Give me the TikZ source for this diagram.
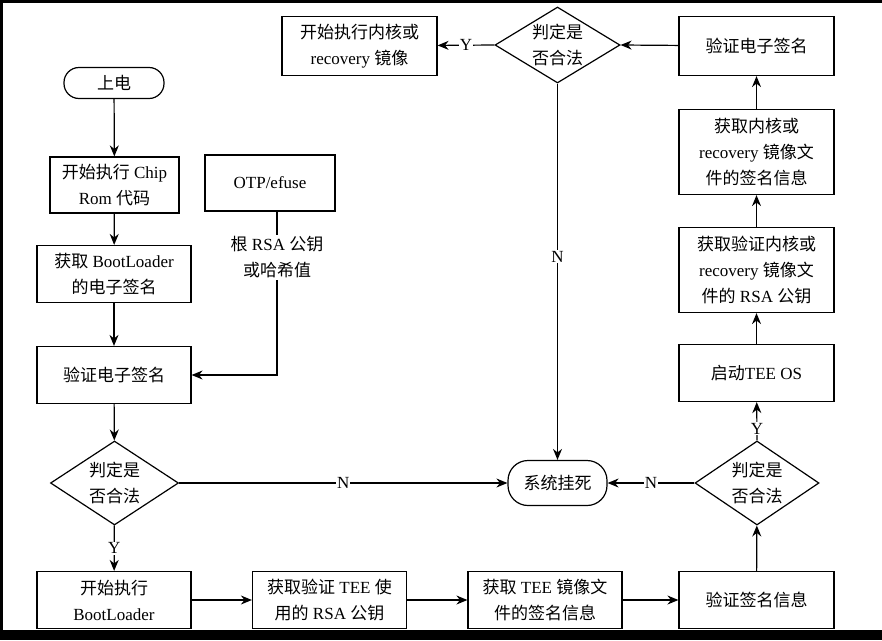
\documentclass[tikz,border=0pt]{standalone}
\usepackage{fontspec}
\setmainfont{Liberation Serif}
\newfontfamily\cjk{Noto Sans CJK SC}
\usepackage{tikz}
\usetikzlibrary{arrows.meta,shapes.geometric}
\newcommand{\zh}[1]{{\cjk #1}}
\tikzstyle{box} = [draw, line width=1.2pt, rectangle, align=center, minimum width=154, minimum height=57, inner sep=2pt]
\tikzstyle{term} = [draw, line width=1.2pt, rectangle, rounded corners=15pt, align=center, inner sep=2pt]
\tikzstyle{decide} = [draw, line width=1.2pt, diamond, aspect=1.5, align=center, inner sep=0pt, minimum width=128, minimum height=84]
\tikzstyle{arrow} = [line width=1.2pt, -{Stealth[length=11pt,width=9pt]}]
\tikzstyle{yn} = [fill=white, inner sep=1pt]

\begin{document}
\begin{tikzpicture}[x=1pt, y=-1pt, font=\fontsize{17}{26}\selectfont]
% frame
\fill[black] (0,0) rectangle (882,640);
\fill[white] (3,3) rectangle (882,630);
\useasboundingbox (0,0) rectangle (882,640);

% left column
\node[term, minimum width=100, minimum height=31] (power) at (114,83) {\zh{上电}};
\node[box, minimum width=129, minimum height=56] (chiprom) at (114.5,185) {\zh{开始执行} Chip\\Rom \zh{代码}};
\node[box] (getsig) at (114,274) {\zh{获取} BootLoader\\\zh{的电子签名}};
\node[box, minimum width=130, minimum height=56] (otp) at (270,183) {OTP/efuse};
\node[box] (verify) at (114,375) {\zh{验证电子签名}};
\node[decide] (chk1) at (114.5,483) {\zh{判定是}\\\zh{否合法}};

% bottom row
\node[box] (boot) at (114,600) {\zh{开始执行}\\BootLoader};
\node[box] (teekey) at (329.5,600) {\zh{获取验证} TEE \zh{使}\\\zh{用的} RSA \zh{公钥}};
\node[box] (teesig) at (545,600) {\zh{获取} TEE \zh{镜像文}\\\zh{件的签名信息}};
\node[box, minimum width=155] (vsig) at (756.5,600) {\zh{验证签名信息}};

% right column
\node[decide, minimum width=124] (chk2) at (757,483) {\zh{判定是}\\\zh{否合法}};
\node[box, minimum width=155] (teeos) at (756.5,373) {\zh{启动}TEE OS};
\node[term, minimum width=99, minimum height=45, rounded corners=20pt] (hang) at (557.5,483) {\zh{系统挂死}};
\node[box, minimum width=155, minimum height=85] (kkey) at (756.5,270) {\zh{获取验证内核或}\\recovery \zh{镜像文}\\\zh{件的} RSA \zh{公钥}};
\node[box, minimum width=155, minimum height=85] (ksig) at (756.5,152) {\zh{获取内核或}\\recovery \zh{镜像文}\\\zh{件的签名信息}};
\node[box, minimum width=155, minimum height=59] (kverify) at (756.5,46) {\zh{验证电子签名}};

% top row
\node[decide, minimum width=125, minimum height=76] (chk3) at (557.5,45) {\zh{判定是}\\\zh{否合法}};
\node[box, minimum width=155, minimum height=59] (kernel) at (359.5,46) {\zh{开始执行内核或}\\recovery \zh{镜像}};

% connectors
\draw[arrow] (power) -- (chiprom);
\draw[arrow] (chiprom) -- (getsig);
\draw[arrow] (getsig) -- (verify);
\draw[arrow] ([xshift=7pt]otp.south) -- node[pos=0.28, fill=white, align=center, inner sep=2pt] {\zh{根} RSA \zh{公钥}\\\zh{或哈希值}} ([xshift=7pt]otp.south |- verify.east) -- (verify.east);
\draw[arrow] (verify) -- (chk1);
\draw[arrow] (chk1) -- node[yn] {Y} (boot);
\draw[arrow] (chk1.east) -- node[yn] {N} (hang.west);
\draw[arrow] (boot) -- (teekey);
\draw[arrow] (teekey) -- (teesig);
\draw[arrow] (teesig) -- (vsig);
\draw[arrow] (vsig) -- (chk2);
\draw[arrow] (chk2.north) -- node[yn, pos=0.3] {Y} (teeos);
\draw[arrow] (chk2.west) -- node[yn] {N} (hang.east);
\draw[arrow] (teeos) -- (kkey);
\draw[arrow] (kkey) -- (ksig);
\draw[arrow] (ksig) -- (kverify);
\draw[arrow] (kverify) -- (chk3.east);
\draw[arrow] (chk3.west) -- node[yn] {Y} (kernel);
\draw[arrow] (chk3.south) -- node[yn, pos=0.46] {N} (hang.north);
\end{tikzpicture}
\end{document}
